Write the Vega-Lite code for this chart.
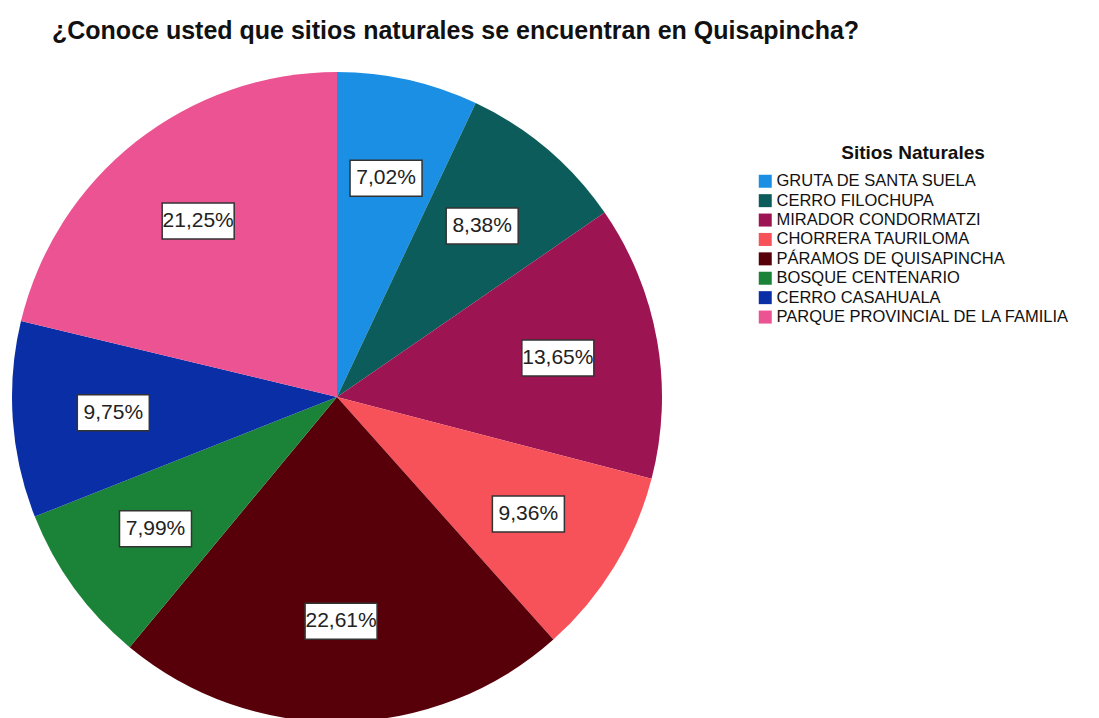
{
  "$schema": "https://vega.github.io/schema/vega-lite/v6.json",
  "autosize": {"type": "none"},
  "padding": {"left": 12, "top": 72, "right": 437, "bottom": 0},
  "width": 650,
  "height": 650,
  "background": "white",
  "title": {
    "text": "¿Conoce usted que sitios naturales se encuentran en Quisapincha?",
    "anchor": "start",
    "font": "Liberation Sans",
    "fontSize": 25,
    "fontWeight": "bold",
    "color": "#111111",
    "baseline": "alphabetic",
    "offset": 8,
    "dx": 40
  },
  "data": {
    "values": [
      {"site": "GRUTA DE SANTA SUELA", "pct": 7.02, "order": 1},
      {"site": "CERRO FILOCHUPA", "pct": 8.38, "order": 2},
      {"site": "MIRADOR CONDORMATZI", "pct": 13.65, "order": 3},
      {"site": "CHORRERA TAURILOMA", "pct": 9.36, "order": 4},
      {"site": "PÁRAMOS DE QUISAPINCHA", "pct": 22.61, "order": 5},
      {"site": "BOSQUE CENTENARIO", "pct": 7.99, "order": 6},
      {"site": "CERRO CASAHUALA", "pct": 9.75, "order": 7},
      {"site": "PARQUE PROVINCIAL DE LA FAMILIA", "pct": 21.25, "order": 8}
    ]
  },
  "layer": [
    {
      "mark": {"type": "arc", "outerRadius": 325, "strokeWidth": 0},
      "encoding": {
        "theta": {"field": "pct", "type": "quantitative", "stack": true},
        "order": {"field": "order", "type": "quantitative"},
        "color": {
          "field": "site",
          "type": "nominal",
          "title": "Sitios Naturales",
          "scale": {
            "domain": ["GRUTA DE SANTA SUELA", "CERRO FILOCHUPA", "MIRADOR CONDORMATZI", "CHORRERA TAURILOMA", "PÁRAMOS DE QUISAPINCHA", "BOSQUE CENTENARIO", "CERRO CASAHUALA", "PARQUE PROVINCIAL DE LA FAMILIA"],
            "range": ["#1a8fe3", "#0b5c5a", "#9c1452", "#f7525a", "#580009", "#1b8338", "#0a2ea6", "#eb5392"]
          },
          "legend": {
            "orient": "none",
            "legendX": 745,
            "legendY": 72,
            "symbolType": "square",
            "symbolSize": 169,
            "symbolStrokeWidth": 0,
            "symbolOpacity": 1,
            "labelFont": "Liberation Sans",
            "labelFontSize": 16.5,
            "labelColor": "#111111",
            "labelOffset": 3,
            "labelLimit": 400,
            "rowPadding": 2.4,
            "titleFont": "Liberation Sans",
            "titleFontSize": 19,
            "titleFontWeight": "bold",
            "titleColor": "#111111",
            "titleAnchor": "middle",
            "titlePadding": 10
          }
        }
      }
    },
    {
      "transform": [
        {"joinaggregate": [{"op": "sum", "field": "pct", "as": "total"}]},
        {"window": [{"op": "sum", "field": "pct", "as": "cum"}], "sort": [{"field": "order", "order": "ascending"}], "frame": [null, 0]},
        {"calculate": "(datum.cum - datum.pct / 2) / datum.total * 2 * PI", "as": "mid"},
        {"calculate": "sin(datum.mid) * 0.69", "as": "lx"},
        {"calculate": "cos(datum.mid) * 0.69", "as": "ly"}
      ],
      "mark": {"type": "point", "shape": "M-1,-0.5H1V0.5H-1Z", "size": 5184, "filled": true, "fill": "white", "stroke": "#333333", "strokeWidth": 1.5, "opacity": 1, "fillOpacity": 1, "strokeOpacity": 1},
      "encoding": {
        "x": {"field": "lx", "type": "quantitative", "scale": {"domain": [-1, 1]}, "axis": null},
        "y": {"field": "ly", "type": "quantitative", "scale": {"domain": [-1, 1]}, "axis": null}
      }
    },
    {
      "transform": [
        {"joinaggregate": [{"op": "sum", "field": "pct", "as": "total"}]},
        {"window": [{"op": "sum", "field": "pct", "as": "cum"}], "sort": [{"field": "order", "order": "ascending"}], "frame": [null, 0]},
        {"calculate": "(datum.cum - datum.pct / 2) / datum.total * 2 * PI", "as": "mid"},
        {"calculate": "sin(datum.mid) * 0.69", "as": "lx"},
        {"calculate": "cos(datum.mid) * 0.69", "as": "ly"},
        {"calculate": "replace(format(datum.pct, '.2f'), '.', ',') + '%'", "as": "lab"}
      ],
      "mark": {"type": "text", "font": "Liberation Sans", "fontSize": 21, "color": "#222222", "align": "center", "baseline": "middle"},
      "encoding": {
        "x": {"field": "lx", "type": "quantitative", "scale": {"domain": [-1, 1]}, "axis": null},
        "y": {"field": "ly", "type": "quantitative", "scale": {"domain": [-1, 1]}, "axis": null},
        "text": {"field": "lab", "type": "nominal"}
      }
    }
  ],
  "config": {"view": {"stroke": null}}
}
